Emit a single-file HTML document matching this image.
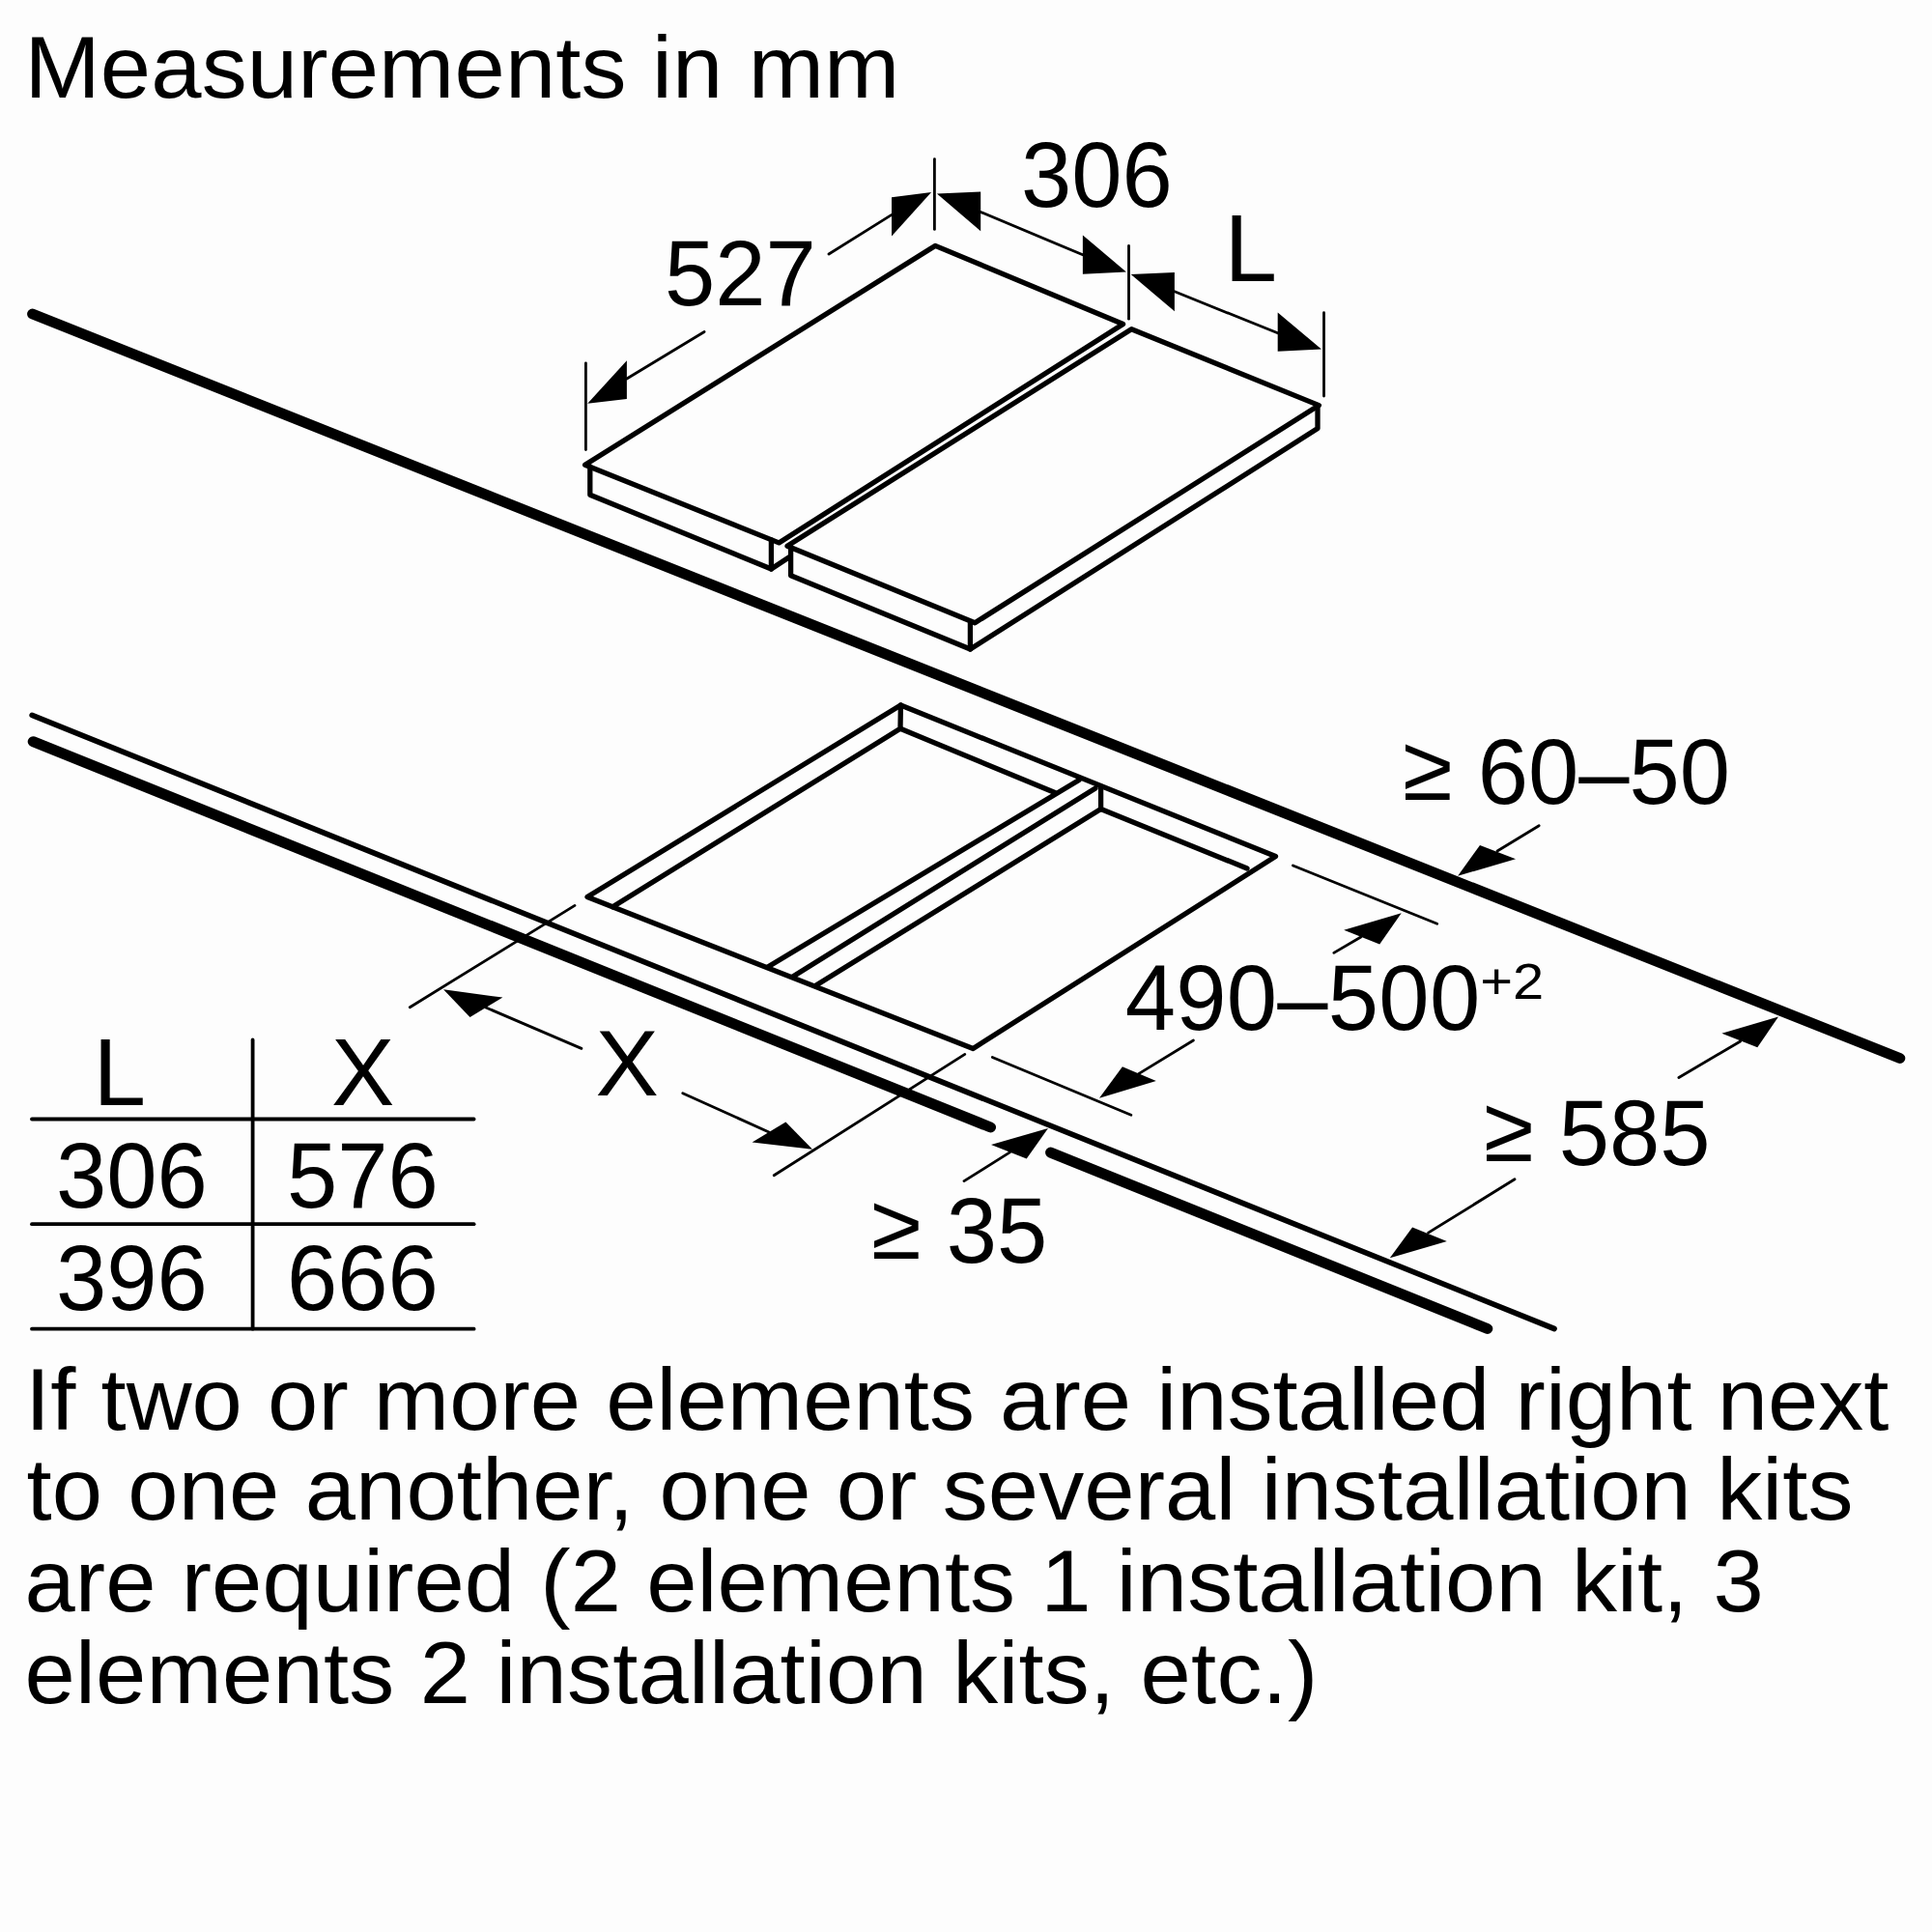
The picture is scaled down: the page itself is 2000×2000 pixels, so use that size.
<!DOCTYPE html>
<html>
<head>
<meta charset="utf-8">
<title>Measurements in mm</title>
<style>
html,body{margin:0;padding:0;background:#fdfdfd;}
body{width:2000px;height:2000px;overflow:hidden;font-family:"Liberation Sans",sans-serif;}
svg{display:block;position:absolute;left:0;top:0;}
text{font-family:"Liberation Sans",sans-serif;fill:#000;}
.t{font-size:94px;}
.k{stroke:#000;stroke-width:11;stroke-linecap:round;fill:none;}
.m{stroke:#000;stroke-width:5.3;stroke-linecap:round;stroke-linejoin:round;fill:none;}
.d{stroke:#000;stroke-width:2.8;stroke-linecap:round;fill:none;}
.a{fill:#000;stroke:none;}
.g{stroke:#000;stroke-width:3.8;stroke-linecap:round;fill:none;}
</style>
</head>
<body>
<svg width="2000" height="2000" viewBox="0 0 2000 2000">
<rect x="0" y="0" width="2000" height="2000" fill="#fdfdfd"/>

<!-- worktop heavy lines -->
<g class="k">
<line x1="33.6" y1="325" x2="1966.8" y2="1095.5"/>
<line x1="34.2" y1="767.7" x2="1025.5" y2="1167"/>
<line x1="1087.6" y1="1193.1" x2="1539.8" y2="1375.5"/>
</g>
<g class="m" style="stroke-width:5.7">
<line x1="33.2" y1="740.4" x2="1609" y2="1375.5"/>
</g>

<!-- hob 1 -->
<g class="m">
<polygon points="605.6,481.2 968.1,254.4 1162.6,335.5 806.3,561.9"/>
<polyline points="610.8,483 610.8,512.2 798.4,589 798.4,559"/>
<line x1="798.4" y1="589" x2="817" y2="576.8"/>
</g>
<!-- hob 2 -->
<g class="m">
<polygon points="815,565.3 1171.3,340.7 1365.4,419.6 1009.2,644.8"/>
<polyline points="818.6,567 818.6,595.7 1004.4,672 1364,443.6 1364,420"/>
<line x1="1004.4" y1="645" x2="1004.4" y2="672"/>
</g>

<!-- cutout -->
<g class="m">
<polygon points="608,928.5 932.4,730 1320.5,886.5 1007.3,1085.5"/>
<polyline points="932.4,730 932,754.3 634.3,938.8"/>
<line x1="932" y1="754.3" x2="1092" y2="820.5"/>
<line x1="794.8" y1="1001" x2="1117" y2="807.5"/>
<line x1="820.7" y1="1011" x2="1134" y2="816"/>
<line x1="1139.6" y1="814" x2="1139.6" y2="837.5"/>
<line x1="844" y1="1020.5" x2="1139.6" y2="837.5"/>
<line x1="1139.6" y1="837.5" x2="1291" y2="899"/>
</g>

<!-- dimension lines -->
<g class="d">
<!-- 527 -->
<line x1="606.4" y1="375.8" x2="606.4" y2="465.6"/>
<line x1="967.4" y1="164.6" x2="967.4" y2="237.4"/>
<line x1="729.1" y1="343.5" x2="648.9" y2="392"/>
<line x1="858" y1="263" x2="923" y2="222.4"/>
<!-- 306 -->
<line x1="1015.2" y1="219.5" x2="1120.9" y2="263.8"/>
<line x1="1168.5" y1="254.5" x2="1168.5" y2="330.2"/>
<!-- L -->
<line x1="1215.9" y1="301.8" x2="1322.7" y2="344.8"/>
<line x1="1370.5" y1="323.7" x2="1370.5" y2="410"/>
<!-- >=60-50 -->
<line x1="1593.2" y1="854.7" x2="1550" y2="881"/>
<!-- 490-500 -->
<line x1="1338.4" y1="896" x2="1487.7" y2="956.3"/>
<line x1="1380.8" y1="986.4" x2="1408.8" y2="970"/>
<line x1="1027.3" y1="1094.5" x2="1170.9" y2="1154.3"/>
<line x1="1235.4" y1="1077" x2="1178.7" y2="1111.6"/>
<!-- >=585 -->
<line x1="1737.9" y1="1115.5" x2="1801.6" y2="1078"/>
<line x1="1568" y1="1220.8" x2="1478.6" y2="1276.1"/>
<!-- X -->
<line x1="595" y1="937.4" x2="424.3" y2="1042.7"/>
<line x1="503" y1="1043" x2="601.9" y2="1085.4"/>
<line x1="706.8" y1="1131.7" x2="796" y2="1172"/>
<line x1="801.2" y1="1216.8" x2="998.8" y2="1091.4"/>
<!-- >=35 -->
<line x1="998" y1="1222.6" x2="1045.4" y2="1192.9"/>
</g>

<!-- arrowheads -->
<g class="a">
<polygon points="608.2,417.8 648.9,373.2 648.9,413.1"/>
<polygon points="964.1,199.1 923,204.3 923,244.6"/>
<polygon points="969.9,200.4 1015.2,198.4 1015.2,239.3"/>
<polygon points="1165.9,281.6 1120.9,243.4 1120.9,283.7"/>
<polygon points="1170.7,284 1215.9,281.9 1215.9,322.3"/>
<polygon points="1368,361.6 1322.7,323.6 1322.7,363.7"/>
<polygon points="1509.1,906.8 1532,875 1569,889.2"/>
<polygon points="1450.7,945.2 1391.2,962.8 1428.2,977.6"/>
<polygon points="1138,1136.7 1161.9,1104.3 1196.8,1119.1"/>
<polygon points="1841,1052.5 1782.4,1069.7 1819.3,1084.3"/>
<polygon points="1438.8,1302.2 1462.1,1270.5 1497.8,1285.1"/>
<polygon points="459,1024.3 520.4,1032.6 486.5,1053"/>
<polygon points="841.1,1189.8 813.4,1161.4 778.6,1182.6"/>
<polygon points="1085,1168 1026,1185.1 1062.7,1199.6"/>
</g>

<!-- table -->
<g class="g">
<line x1="33" y1="1158.5" x2="490.6" y2="1158.5"/>
<line x1="33" y1="1267.2" x2="490.6" y2="1267.2"/>
<line x1="33" y1="1375.7" x2="490.6" y2="1375.7"/>
<line x1="261.6" y1="1076.4" x2="261.6" y2="1375.7"/>
</g>

<!-- text -->
<g class="t">
<text id="t_title" x="25.4" y="101.2" textLength="906" lengthAdjust="spacing" transform="matrix(1 0 0 0.976 0 2.429)">Measurements in mm</text>
<text id="t_527" x="688" y="315.8" transform="matrix(1 0 0 1.020 0 -6.316)">527</text>
<text id="t_306" x="1057" y="214" transform="matrix(1 0 0 1.020 0 -4.280)">306</text>
<text id="t_L" x="1267.6" y="290.5" style="font-size:98px">L</text>
<text id="t_6050" x="1452" y="832" transform="matrix(1 0 0 1.020 0 -16.640)"><tspan dy="-4.2">≥</tspan><tspan dy="4.2"> 60–50</tspan></text>
<text id="t_490" x="1164.7" y="1066" transform="matrix(1 0 0 1.020 0 -21.320)" textLength="367.5" lengthAdjust="spacing">490–500</text>
<text id="t_sup" x="1532.3" y="1033.8" style="font-size:52px" textLength="66" lengthAdjust="spacingAndGlyphs">+2</text>
<text id="t_585" x="1536" y="1206.2" transform="matrix(1 0 0 1.020 0 -24.124)"><tspan dy="-4.2">≥</tspan><tspan dy="4.2"> 585</tspan></text>
<text id="t_X" x="616.6" y="1133.5" style="font-size:96.5px" textLength="65.4" lengthAdjust="spacingAndGlyphs">X</text>
<text id="t_35" x="902" y="1307.5" transform="matrix(1 0 0 1.020 0 -26.150)"><tspan dy="-4.2">≥</tspan><tspan dy="4.2"> 35</tspan></text>
<text id="t_tL" x="96.4" y="1144.2" style="font-size:98px">L</text>
<text id="t_tX" x="343" y="1144.2" style="font-size:98px">X</text>
<text id="t_t306" x="58" y="1250" transform="matrix(1 0 0 1.020 0 -25.000)">306</text>
<text id="t_t576" x="297" y="1250" transform="matrix(1 0 0 1.020 0 -25.000)">576</text>
<text id="t_t396" x="58" y="1356" transform="matrix(1 0 0 1.020 0 -27.120)">396</text>
<text id="t_t666" x="297" y="1356" transform="matrix(1 0 0 1.020 0 -27.120)">666</text>
<text id="t_p1" x="26.1" y="1479.8" textLength="1929.4" lengthAdjust="spacing" transform="matrix(1 0 0 0.976 0 35.515)">If two or more elements are installed right next</text>
<text id="t_p2" x="27.5" y="1572.8" textLength="1891" lengthAdjust="spacing" transform="matrix(1 0 0 0.976 0 37.747)">to one another, one or several installation kits</text>
<text id="t_p3" x="25.5" y="1667.6" textLength="1800.3" lengthAdjust="spacing" transform="matrix(1 0 0 0.976 0 40.022)">are required (2 elements 1 installation kit, 3</text>
<text id="t_p4" x="25.5" y="1762.7" textLength="1338.7" lengthAdjust="spacing" transform="matrix(1 0 0 0.976 0 42.305)">elements 2 installation kits, etc.)</text>
</g>
</svg>
</body>
</html>
